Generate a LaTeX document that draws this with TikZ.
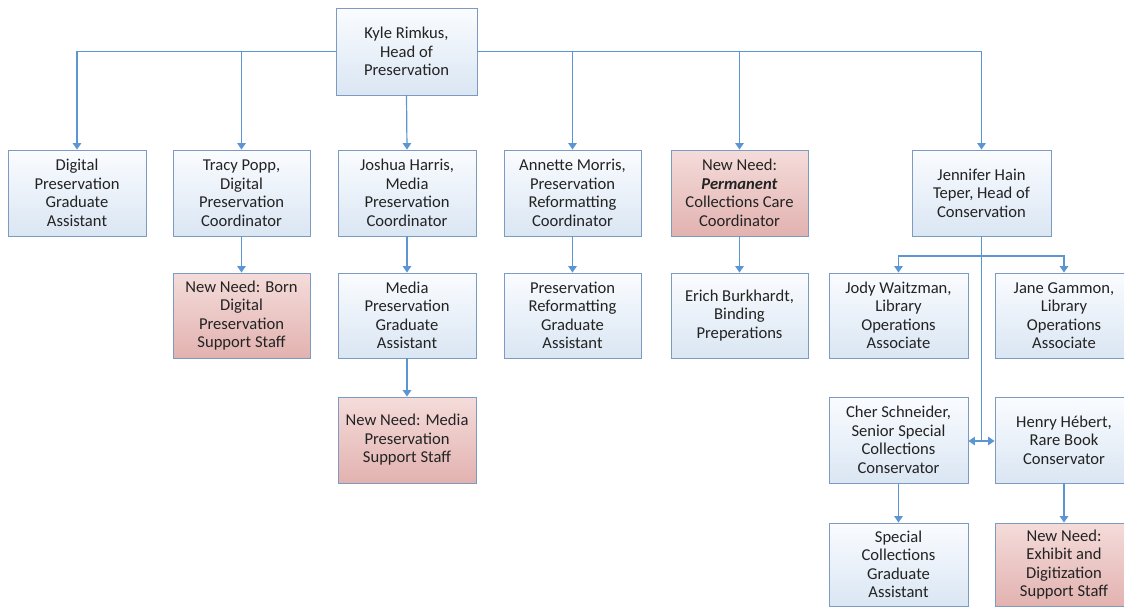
\documentclass[tikz,border=0pt]{standalone}
\usepackage{fontspec}
\setmainfont{Carlito}
\usetikzlibrary{arrows.meta}
\definecolor{bordc}{RGB}{125,155,192}
\definecolor{linec}{RGB}{91,150,210}
\definecolor{bluetop}{RGB}{250,252,255}
\definecolor{bluebot}{RGB}{218,230,243}
\definecolor{pinktop}{RGB}{244,220,218}
\definecolor{pinkbot}{RGB}{226,178,176}
\definecolor{txtc}{RGB}{35,35,35}
\tikzset{
  box/.style={draw=bordc, line width=0.9pt, rectangle, align=center, inner sep=2pt,
    top color=bluetop, bottom color=bluebot, text=txtc,
    font=\fontsize{16.6}{18.5}\selectfont},
  needbox/.style={box, top color=pinktop, bottom color=pinkbot},
  conn/.style={draw=linec, line width=1.2pt, -{Triangle[width=8.5pt,length=6.5pt]}},
  conn2/.style={draw=linec, line width=1.2pt},
}
\begin{document}
\begin{tikzpicture}[x=1pt,y=-1pt]
\useasboundingbox (0,0) rectangle (1124,608);
\clip (0,0) rectangle (1124,608);
\fill[white] (0,0) rectangle (1124,608);
% top
\node[box, minimum width=141pt, minimum height=87pt] (top) at (406.5,51.5) {Kyle Rimkus,\\Head of\\Preservation};
% row 1
\node[box, minimum width=138pt, minimum height=86pt] (dgga) at (77,193) {Digital\\Preservation\\Graduate\\Assistant};
\node[box, minimum width=137pt, minimum height=86pt] (tracy) at (241.5,193) {Tracy Popp,\\Digital\\Preservation\\Coordinator};
\node[box, minimum width=138pt, minimum height=86pt] (joshua) at (407,193) {Joshua Harris,\\Media\\Preservation\\Coordinator};
\node[box, minimum width=137pt, minimum height=86pt] (annette) at (572.5,193) {Annette Morris,\\Preservation\\Reformatting\\Coordinator};
\node[needbox, minimum width=137pt, minimum height=86pt] (perm) at (739.5,193) {New Need:\\\textbf{\textit{Permanent}}\\Collections Care\\Coordinator};
\node[box, minimum width=139pt, minimum height=86pt] (jen) at (981.5,193) {Jennifer Hain\\Teper, Head of\\Conservation};
% row 2
\node[needbox, minimum width=137pt, minimum height=85pt] (born) at (241.5,315.5) {New Need: Born\\Digital\\Preservation\\Support Staff};
\node[box, minimum width=138pt, minimum height=85pt] (mpga) at (407,315.5) {Media\\Preservation\\Graduate\\Assistant};
\node[box, minimum width=137pt, minimum height=85pt] (prga) at (572.5,315.5) {Preservation\\Reformatting\\Graduate\\Assistant};
\node[box, minimum width=137pt, minimum height=85pt] (erich) at (739.5,315.5) {Erich Burkhardt,\\Binding\\Preperations};
\node[box, minimum width=139pt, minimum height=85pt] (jody) at (898.5,315.5) {Jody Waitzman,\\Library\\Operations\\Associate};
\node[box, minimum width=138pt, minimum height=85pt] (jane) at (1064,315.5) {Jane Gammon,\\Library\\Operations\\Associate};
% row 3
\node[needbox, minimum width=138pt, minimum height=86pt] (mpss) at (407,440) {New Need: Media\\Preservation\\Support Staff};
\node[box, minimum width=139pt, minimum height=86pt] (cher) at (898.5,440) {Cher Schneider,\\Senior Special\\Collections\\Conservator};
\node[box, minimum width=138pt, minimum height=86pt] (henry) at (1064,440) {Henry Hébert,\\Rare Book\\Conservator};
% row 4
\node[box, minimum width=139pt, minimum height=83pt] (scga) at (898.5,564.5) {Special\\Collections\\Graduate\\Assistant};
\node[needbox, minimum width=138pt, minimum height=83pt] (exh) at (1064,564.5) {New Need:\\Exhibit and\\Digitization\\Support Staff};
% connectors
\draw[conn] (top.west) -| (dgga.north);
\draw[conn] (top.west) -| (tracy.north);
\draw[conn] (top.south) -- (joshua.north);
\draw[conn] (top.east) -| (annette.north);
\draw[conn] (top.east) -| (perm.north);
\draw[conn] (top.east) -| (jen.north);
\draw[conn] (tracy.south) -- (born.north);
\draw[conn] (joshua.south) -- (mpga.north);
\draw[conn] (mpga.south) -- (mpss.north);
\draw[conn] (annette.south) -- (prga.north);
\draw[conn] (perm.south) -- (erich.north);
\coordinate (jb) at (981.5,256);
\coordinate (jc) at (981.5,441);
\draw[conn2] (jen.south) -- (jc);
\draw[conn] (jb) -| (jody.north);
\draw[conn] (jb) -| (jane.north);
\draw[conn] (jc) -- (cher.east |- jc);
\draw[conn] (jc) -- (henry.west |- jc);
\draw[conn] (cher.south) -- (scga.north);
\draw[conn] (henry.south) -- (exh.north);
\end{tikzpicture}
\end{document}
